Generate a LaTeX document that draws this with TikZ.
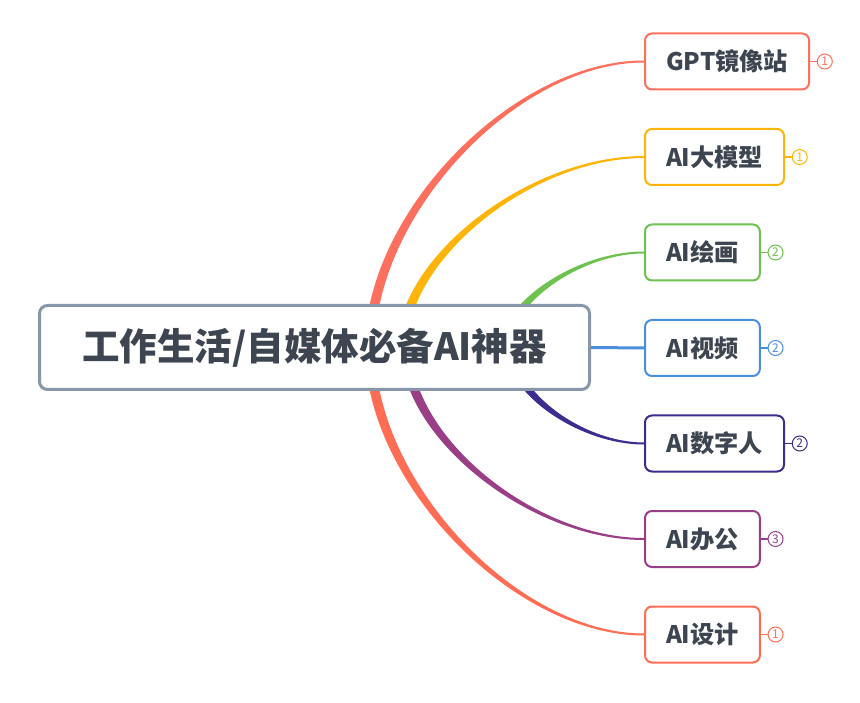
\documentclass[tikz,border=0pt]{standalone}
\usepackage{fontspec}
\setmainfont{Noto Sans CJK SC}
\usetikzlibrary{calc}
\definecolor{txt}{HTML}{3D4550}
\definecolor{rootc}{HTML}{8896A9}
\definecolor{c1}{HTML}{FF6F5E}
\definecolor{c2}{HTML}{FFB508}
\definecolor{c3}{HTML}{6DC250}
\definecolor{c4}{HTML}{4A8EDC}
\definecolor{c5}{HTML}{3B2E8E}
\definecolor{c6}{HTML}{9A3F87}
\definecolor{c7}{HTML}{FF6D55}
\pgfdeclarelayer{bg}
\pgfsetlayers{bg,main}
\newcommand\bk{0.47}
\newcommand\band[4]{%
 \fill[#1] let \p1=(#2), \p2=(#3.west) in
 ({\x1-5pt},\y1) .. controls ({\x1-5pt},{\y1+\bk*(\y2+#4*1pt-\y1)}) and ({\x2-\bk*(\x2-\x1+5pt)},{\y2+#4*1pt}) .. (\x2,{\y2+#4*1pt})
 -- (\x2,{\y2-#4*1pt}) .. controls ({\x2-\bk*(\x2-\x1-5pt)},{\y2-#4*1pt}) and ({\x1+5pt},{\y1+\bk*(\y2-#4*1pt-\y1)}) .. ({\x1+5pt},\y1) -- cycle;}
\begin{document}
\begin{tikzpicture}[x=1pt,y=-1pt,
 rootbox/.style={draw=rootc, line width=3pt, rounded corners=8pt, fill=white,
   minimum width=550pt, minimum height=84pt, inner sep=0pt,
   font=\fontsize{37.5}{40}\selectfont\bfseries, text=txt},
 topic/.style={draw=#1, line width=2pt, rounded corners=7pt, fill=white,
   minimum height=56pt, inner xsep=21pt, anchor=west,
   font=\fontsize{24.2}{28}\selectfont\bfseries, text=txt},
 badge/.style={draw=#1, circle, line width=1pt, minimum size=15pt, inner sep=0pt,
   text=#1, font=\fontsize{12}{12}\selectfont},
 link/.style={draw=#1, line width=1.2pt}
]
\useasboundingbox (0,0) rectangle (860,703);
\node[rootbox] (root) at (314.5,347.5) {工作生活/自媒体必备AI神器};
\node[topic=c1] (t1) at (644,61.5) {GPT镜像站};
\node[topic=c2] (t2) at (644,157) {AI大模型};
\node[topic=c3] (t3) at (644,252.5) {AI绘画};
\node[topic=c4] (t4) at (644,348) {AI视频};
\node[topic=c5] (t5) at (644,443.5) {AI数字人};
\node[topic=c6] (t6) at (644,539) {AI办公};
\node[topic=c7] (t7) at (644,634.5) {AI设计};
\foreach \i/\n in {1/1,2/1,3/2,4/2,5/2,6/3,7/1}{
  \node[badge=c\i] (b\i) at ([xshift=14.7pt]t\i.east) {\n};
  \draw[link=c\i] (t\i.east) -- (b\i.west);
}
\coordinate (s1) at (370,347.5);
\coordinate (s2) at (402,347.5);
\coordinate (s3) at (505,347.5);
\coordinate (s5) at (510,347.5);
\coordinate (s6) at (406,347.5);
\coordinate (s7) at (370,347.5);
\begin{pgfonlayer}{bg}
\band{c1}{s1}{t1}{1}
\band{c2}{s2}{t2}{1}
\band{c3}{s3}{t3}{1}
\band{c5}{s5}{t5}{(-1)}
\band{c6}{s6}{t6}{(-1)}
\band{c7}{s7}{t7}{(-1)}
\draw[c4, line width=3pt] (root.east) -- (t4.west);
\end{pgfonlayer}
\end{tikzpicture}
\end{document}
